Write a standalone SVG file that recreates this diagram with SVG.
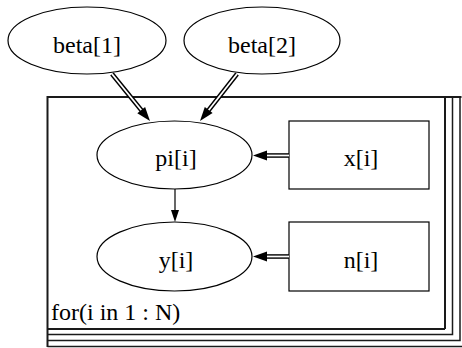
<svg xmlns="http://www.w3.org/2000/svg" width="462" height="348" viewBox="0 0 462 348">
<style>
.node{fill:#fff;stroke:#000;stroke-width:1.2}
.lbl{font-family:"Liberation Serif","Times New Roman",serif;font-size:24px;fill:#000;text-anchor:middle}
.plate{fill:none;stroke:#1a1a1a}
.dblo{stroke:#000;stroke-width:4.6;fill:none}
.dbli{stroke:#fff;stroke-width:1.8;fill:none}
.head{fill:#000}
</style>
<rect width="462" height="348" fill="#fff"/>
<g id="plate">
<path class="plate" stroke-width="2" d="M47.5,97 H461.5 M47.5,96 V347 M445,97 V329 M47.5,329 H445"/>
<path class="plate" stroke-width="1.5" d="M47.5,334.5 H452.5 V97 M47.5,340.5 H460 V97 M47.5,346.5 H462"/>
<text class="lbl" x="51" y="320" style="text-anchor:start">for(i in 1 : N)</text>
</g>
<g id="beta1">
<ellipse class="node" cx="87" cy="40.5" rx="79" ry="33.5"/>
<text class="lbl" x="87" y="53">beta[1]</text>
</g>
<g id="beta2">
<ellipse class="node" cx="262" cy="40.5" rx="78" ry="33.5"/>
<text class="lbl" x="262" y="53">beta[2]</text>
</g>
<g id="pi">
<ellipse class="node" cx="174.5" cy="155" rx="77.5" ry="34"/>
<text class="lbl" x="176" y="166">pi[i]</text>
</g>
<g id="y">
<ellipse class="node" cx="174.5" cy="256.5" rx="77.5" ry="34.5"/>
<text class="lbl" x="176" y="268">y[i]</text>
</g>
<g id="x">
<rect class="node" x="289" y="121" width="140" height="68"/>
<text class="lbl" x="361" y="166">x[i]</text>
</g>
<g id="n">
<rect class="node" x="289" y="222" width="140" height="69"/>
<text class="lbl" x="361" y="268">n[i]</text>
</g>
<g id="connectors">
<path class="dblo" d="M112,74 L142,111"/>
<path class="dbli" d="M112,74 L142,111"/>
<polygon class="head" points="150,121 137.3,113.3 145.1,107"/>
<path class="dblo" d="M237,74 L208,111"/>
<path class="dbli" d="M237,74 L208,111"/>
<polygon class="head" points="200,121 212.6,113.1 204.8,106.9"/>
<path class="dblo" d="M289,155.5 H266"/>
<path class="dbli" d="M289,155.5 H266"/>
<polygon class="head" points="253,155.5 267,150.5 267,160.5"/>
<path class="dblo" d="M289,256.5 H266"/>
<path class="dbli" d="M289,256.5 H266"/>
<polygon class="head" points="253,256.5 267,251.5 267,261.5"/>
<path d="M175,189 V211" stroke="#000" stroke-width="1.2" fill="none"/>
<polygon class="head" points="175,222 171,210 179,210"/>
</g>
</svg>
